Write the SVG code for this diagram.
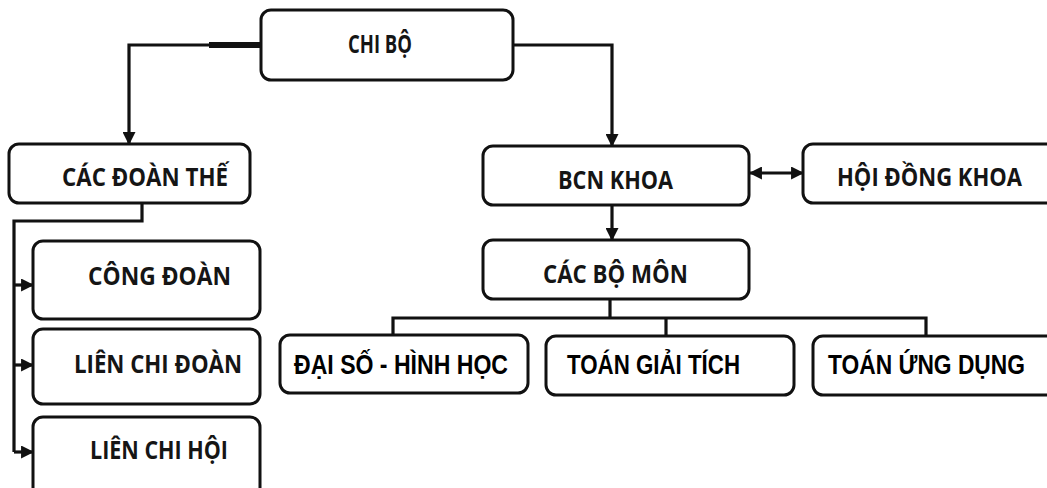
<svg xmlns="http://www.w3.org/2000/svg" width="1047" height="488" viewBox="0 0 1047 488">
<defs>
<style>
.box{fill:#fff;stroke:#111;stroke-width:3}
.t{font-family:"Open Sans","Liberation Sans",sans-serif;font-weight:bold;font-size:25px;fill:#151515}
.a{font-family:"Liberation Sans",Arial,sans-serif;font-weight:bold;font-size:27px;fill:#000}
.c{fill:none;stroke:#111;stroke-width:3.2}
</style>
<marker id="ah" viewBox="0 0 12 12" refX="11" refY="6" markerWidth="13" markerHeight="13" markerUnits="userSpaceOnUse" orient="auto-start-reverse">
<path d="M0,0 L12,6 L0,12 Z" fill="#111"/>
</marker>
</defs>
<rect width="1047" height="488" fill="#fff"/>
<g id="connectors">
<path class="c" d="M261,45 H129 V144" marker-end="url(#ah)"/>
<path d="M209,45 H261" stroke="#111" stroke-width="6"/>
<path class="c" d="M513,45 H612 V146" marker-end="url(#ah)"/>
<path class="c" d="M142,203 V221 H14 V452"/>
<path class="c" d="M14,285 H33" marker-end="url(#ah)"/>
<path class="c" d="M14,365 H33" marker-end="url(#ah)"/>
<path class="c" d="M14,452 H33" marker-end="url(#ah)"/>
<path class="c" d="M612,205 V240" marker-end="url(#ah)"/>
<path class="c" d="M750,173 H803" stroke-width="4" marker-start="url(#ah)" marker-end="url(#ah)"/>
<path class="c" d="M610,299 V318"/>
<path class="c" d="M393,335 V318 H926 V336"/>
<path class="c" d="M666,318 V336"/>
</g>
<g id="chibo"><rect class="box" x="261" y="10" width="252" height="70" rx="10"/><text class="t" x="348" y="53" textLength="64" lengthAdjust="spacingAndGlyphs">CHI BỘ</text></g>
<g id="cacdoanthe"><rect class="box" x="9" y="144" width="241" height="59" rx="10"/><text class="t" x="62" y="186" textLength="166" lengthAdjust="spacingAndGlyphs">CÁC ĐOÀN THẾ</text></g>
<g id="congdoan"><rect class="box" x="33" y="241" width="227" height="78" rx="10"/><text class="t" x="88" y="285" textLength="143" lengthAdjust="spacingAndGlyphs">CÔNG ĐOÀN</text></g>
<g id="lienchidoan"><rect class="box" x="33" y="329" width="227" height="75" rx="10"/><text class="t" x="74" y="373" textLength="168" lengthAdjust="spacingAndGlyphs">LIÊN CHI ĐOÀN</text></g>
<g id="lienchihoi"><rect class="box" x="33" y="417" width="227" height="90" rx="10"/><text class="t" x="90" y="459" textLength="138" lengthAdjust="spacingAndGlyphs">LIÊN CHI HỘI</text></g>
<g id="bcnkhoa"><rect class="box" x="483" y="146" width="266" height="59" rx="10"/><text class="t" x="558" y="189" textLength="115" lengthAdjust="spacingAndGlyphs">BCN KHOA</text></g>
<g id="hoidongkhoa"><rect class="box" x="803" y="144" width="260" height="59" rx="10"/><text class="t" x="837" y="186" textLength="185" lengthAdjust="spacingAndGlyphs">HỘI ĐỒNG KHOA</text></g>
<g id="cacbomon"><rect class="box" x="483" y="240" width="266" height="59" rx="10"/><text class="t" x="543" y="283" textLength="145" lengthAdjust="spacingAndGlyphs">CÁC BỘ MÔN</text></g>
<g id="daiso"><rect class="box" x="280" y="335" width="248" height="58" rx="10"/><text class="a" x="294" y="374" textLength="214" lengthAdjust="spacingAndGlyphs">ĐẠI SỐ - HÌNH HỌC</text></g>
<g id="giaitich"><rect class="box" x="546" y="336" width="248" height="59" rx="10"/><text class="a" x="567" y="374" textLength="173" lengthAdjust="spacingAndGlyphs">TOÁN GIẢI TÍCH</text></g>
<g id="ungdung"><rect class="box" x="813" y="336" width="250" height="59" rx="10"/><text class="a" x="828" y="374" textLength="197" lengthAdjust="spacingAndGlyphs">TOÁN ỨNG DỤNG</text></g>
</svg>
